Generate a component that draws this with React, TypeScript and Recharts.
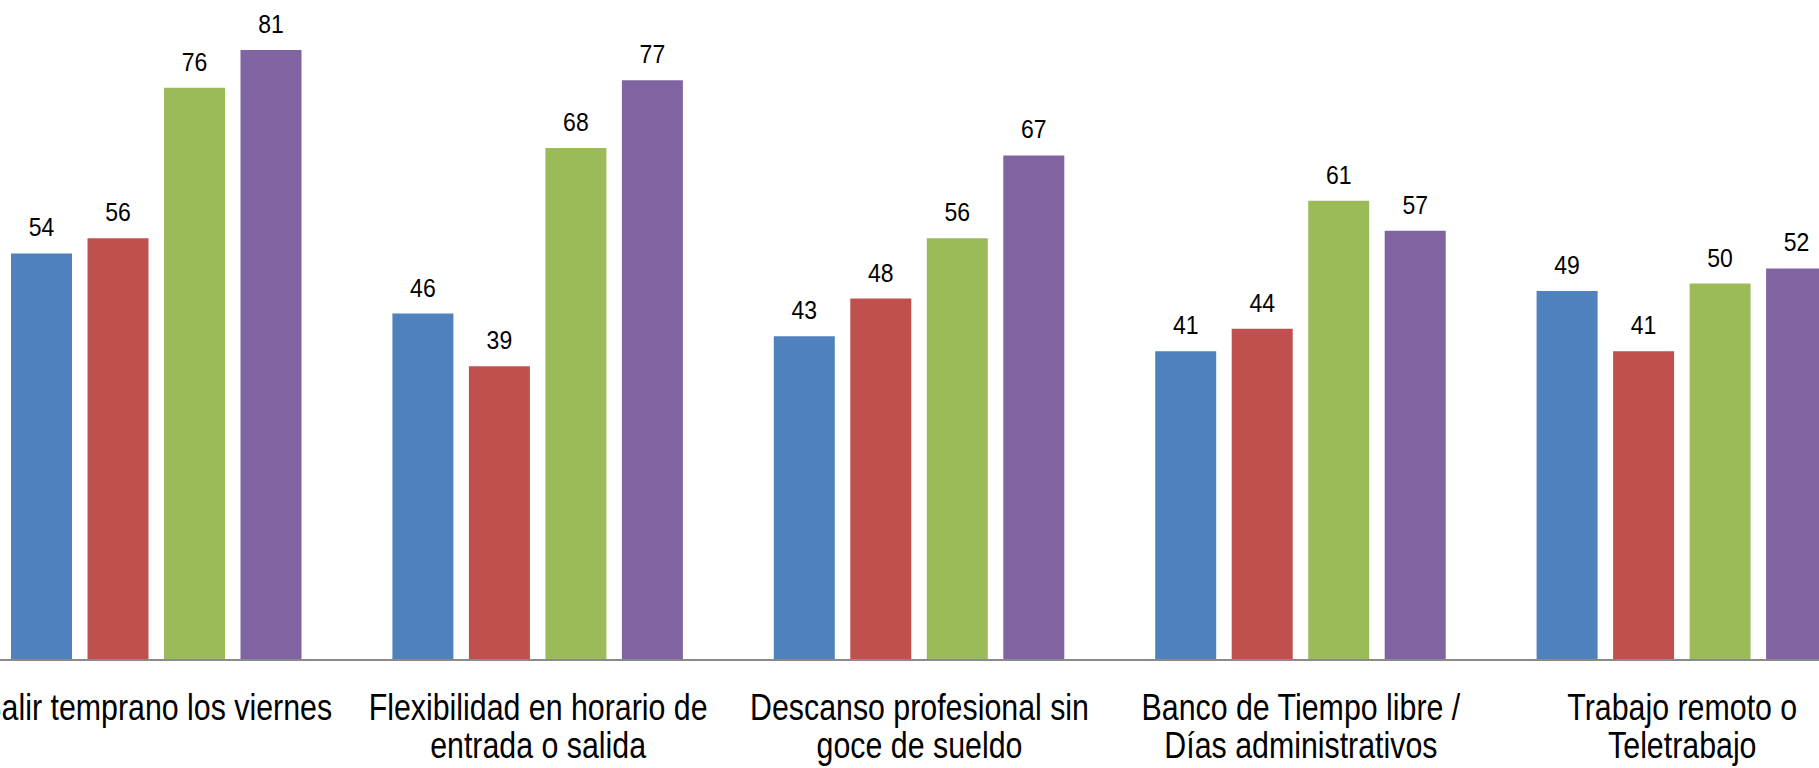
import { BarChart, Bar, XAxis, YAxis, LabelList } from "recharts";

const categories = [
  "Salir temprano los viernes",
  "Flexibilidad en horario de entrada o salida",
  "Descanso profesional sin goce de sueldo",
  "Banco de Tiempo libre / Días administrativos",
  "Trabajo remoto o Teletrabajo",
];

const tickLines = [
  ["Salir temprano los viernes"],
  ["Flexibilidad en horario de", "entrada o salida"],
  ["Descanso profesional sin", "goce de sueldo"],
  ["Banco de Tiempo libre /", "Días administrativos"],
  ["Trabajo remoto o", "Teletrabajo"],
];

const serie1 = [54, 46, 43, 41, 49];
const serie2 = [56, 39, 48, 44, 41];
const serie3 = [76, 68, 56, 61, 50];
const serie4 = [81, 77, 67, 57, 52];

const data = categories.map((name, i) => ({
  name,
  s1: serie1[i],
  s2: serie2[i],
  s3: serie3[i],
  s4: serie4[i],
}));

const FONT = "'Liberation Sans', Arial, sans-serif";

function CategoryTick(props: any) {
  const { x, y, index } = props;
  const lines = tickLines[index] || [];
  return (
    <g transform={`translate(${x},${y})`}>
      {lines.map((line, i) => (
        <text
          key={i}
          x={0}
          y={60 + i * 38}
          textAnchor="middle"
          fontFamily={FONT}
          fontSize={37}
          fill="#000"
          transform="scale(0.82,1)"
        >
          {line}
        </text>
      ))}
    </g>
  );
}

function ValueLabel(props: any) {
  const { x, y, width, value } = props;
  const cx = x + width / 2;
  return (
    <text
      x={0}
      y={0}
      textAnchor="middle"
      fontFamily={FONT}
      fontSize={25}
      fill="#000"
      transform={`translate(${cx},${y - 17}) scale(0.92,1)`}
    >
      {value}
    </text>
  );
}

const series = [
  { key: "s1", color: "#4F81BD" },
  { key: "s2", color: "#C0504D" },
  { key: "s3", color: "#9BBB59" },
  { key: "s4", color: "#8064A2" },
];

export default function App() {
  return (
    <div
      style={{
        position: "fixed",
        left: 0,
        top: 0,
        width: 1819,
        height: 768,
        overflow: "hidden",
        background: "#fff",
      }}
    >
      <div style={{ position: "absolute", left: -34, top: -93 }}>
        <BarChart
          width={1907}
          height={873}
          data={data}
          margin={{ top: 0, right: 0, bottom: 0, left: 0 }}
          barSize={61}
          barGap={15.5}
        >
          <XAxis
            dataKey="name"
            height={120}
            tickLine={false}
            tickSize={0}
            tickMargin={0}
            interval={0}
            axisLine={{ stroke: "#8a8a8a", strokeWidth: 2 }}
            tick={<CategoryTick />}
          />
          <YAxis hide domain={[0, 100]} />
          {series.map((s) => (
            <Bar key={s.key} dataKey={s.key} fill={s.color} isAnimationActive={false}>
              <LabelList dataKey={s.key} content={<ValueLabel />} />
            </Bar>
          ))}
        </BarChart>
      </div>
    </div>
  );
}
